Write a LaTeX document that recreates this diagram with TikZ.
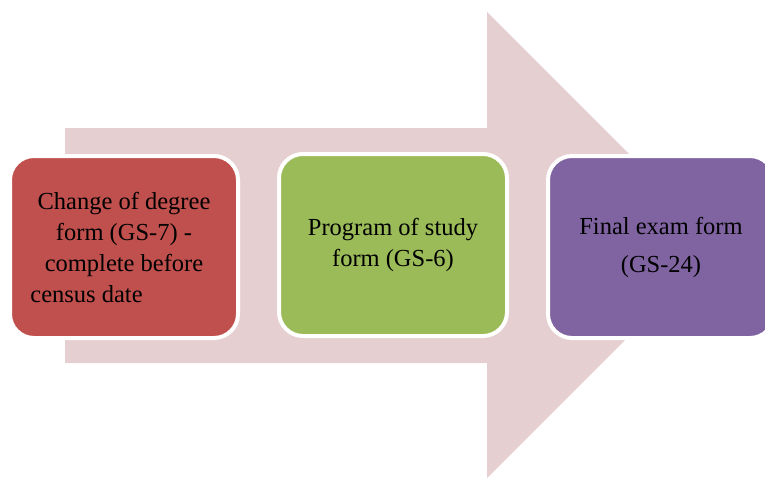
\documentclass[tikz,border=0pt]{standalone}
\usepackage{fontspec}
\setmainfont{Liberation Serif}
\definecolor{arrowpink}{HTML}{E6CFD0}
\definecolor{stagered}{HTML}{C0504D}
\definecolor{stagegreen}{HTML}{9BBB59}
\definecolor{stagepurple}{HTML}{8064A2}
\begin{document}
\begin{tikzpicture}[x=1pt,y=-1pt,
  stage/.style={rounded corners=24pt, draw=white, line width=4pt,
    minimum width=228pt, minimum height=182pt, inner sep=0pt,
    align=center, text=black, font=\fontsize{24.5}{31}\selectfont},
]
\useasboundingbox (0,0) rectangle (765,477);
% broad background arrow
\fill[arrowpink] (65,128) -- (487,128) -- (487,12) -- (720,245)
  -- (487,478) -- (487,363) -- (65,363) -- cycle;
% the three stages
\node[stage, fill=stagered] (gs7) at (124,247)
  {Change of degree\\form (GS-7) -\\complete before\\census date\hspace*{75pt}};
\node[stage, fill=stagegreen] (gs6) at (393,245)
  {Program of study\\form (GS-6)};
\node[stage, fill=stagepurple, minimum width=226pt,
  font=\fontsize{24.5}{38}\selectfont] (gs24) at (661,247)
  {Final exam form\\(GS-24)};
\end{tikzpicture}
\end{document}
